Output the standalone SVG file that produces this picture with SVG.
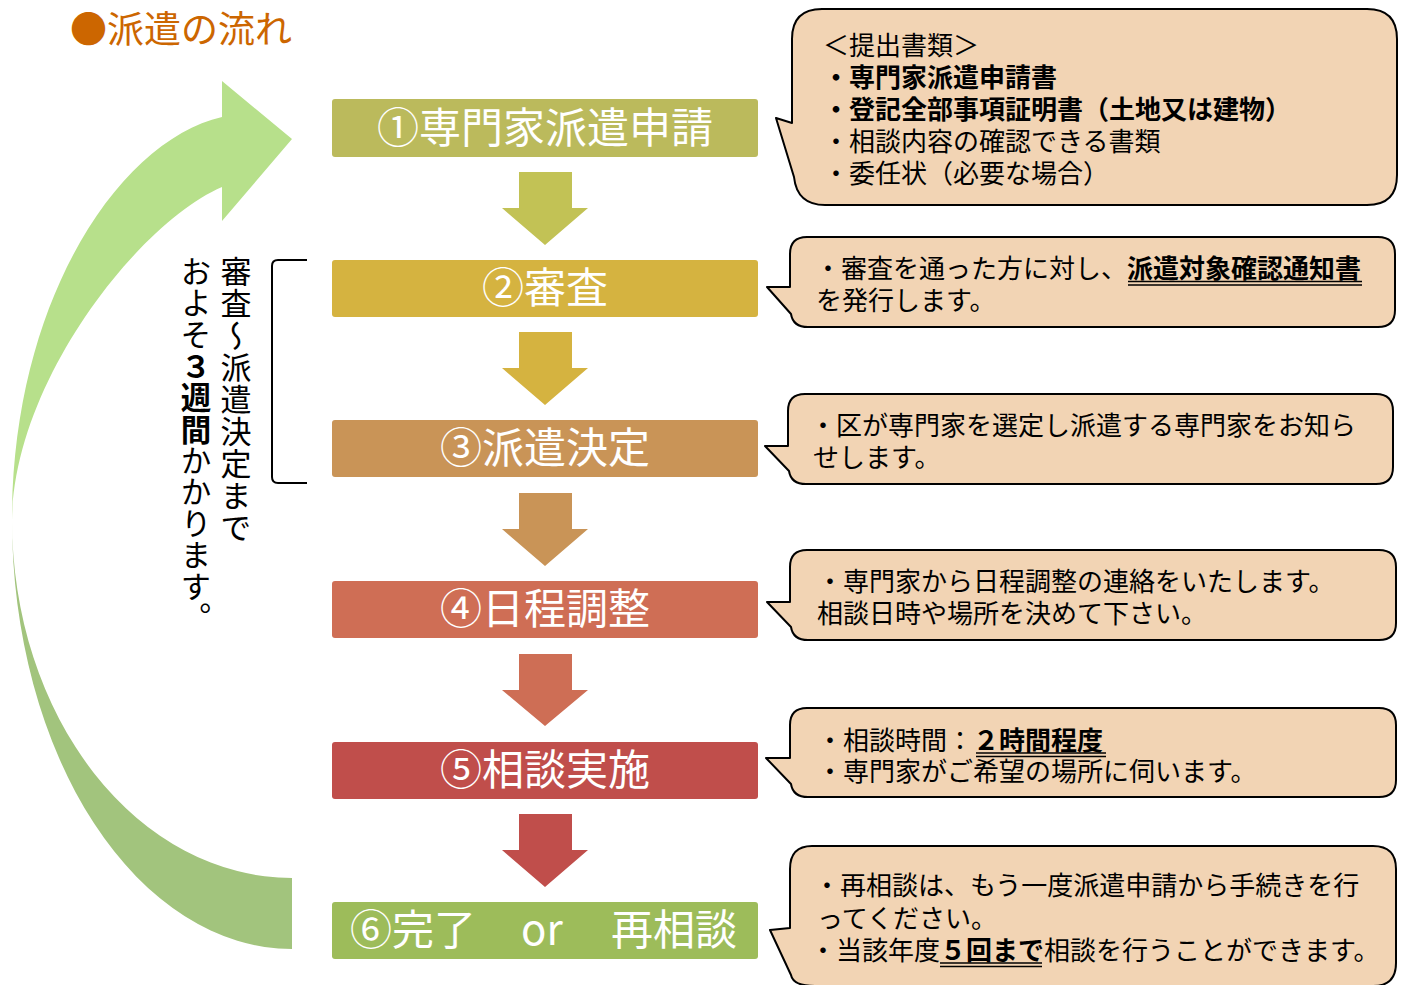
<svg xmlns="http://www.w3.org/2000/svg" width="1405" height="985" viewBox="0 0 1405 985">
<defs>
<style>
.jp{font-family:"Noto Sans CJK JP","Noto Sans",sans-serif;}
.step{font-family:"Noto Sans CJK JP","Noto Sans",sans-serif;font-size:42px;fill:#fff;text-anchor:middle;}
.call{fill:#F2D4B4;stroke:#000;stroke-width:2;stroke-linejoin:round;}
.ct{font-family:"Noto Sans CJK JP","Noto Sans",sans-serif;font-size:26px;fill:#000;}
.b{font-weight:bold;}
.ul{stroke:#000;stroke-width:1.5;}
.vt{font-family:"Noto Sans CJK JP","Noto Sans",sans-serif;fill:#000;writing-mode:vertical-rl;}
</style>
</defs>
<rect width="1405" height="985" fill="#fff"/>

<g id="title">
<text class="jp" x="70" y="43" font-size="37" fill="#CC6600">●派遣の流れ</text>
</g>

<g id="cycle-arrow">
<path d="M12,520 A280,429 0 0 0 292,949 L292,878 A280,358 0 0 1 12,520 Z" fill="#A2C47D"/>
<path d="M222,187 L222,221 L292,139 L222,81 L222,117 C120,140 12,300 12,520 C14,380 140,222 222,187 Z" fill="#B7E08B"/>
</g>

<g id="bracket">
<path d="M307,260 H278 Q272,260 272,266 V477 Q272,483 278,483 H307" fill="none" stroke="#000" stroke-width="2"/>
<text class="vt" x="236" y="256" font-size="31" letter-spacing="1">審査～派遣決定まで</text>
<text class="vt" x="196" y="256" font-size="30.5" letter-spacing="1">およそ<tspan font-weight="bold">３週間</tspan>かかります。</text>
</g>

<g id="connectors">
<polygon points="519,172 572,172 572,208 588,208 545,245 502,208 519,208" fill="#C2C255"/>
<polygon points="519,332 572,332 572,368 588,368 545,405 502,368 519,368" fill="#D5B340"/>
<polygon points="519,493 572,493 572,529 588,529 545,566 502,529 519,529" fill="#C99457"/>
<polygon points="519,654 572,654 572,690 588,690 545,726 502,690 519,690" fill="#CE6E55"/>
<polygon points="519,814 572,814 572,850 588,850 545,887 502,850 519,850" fill="#C04E4B"/>
</g>

<g id="step1">
<rect x="332" y="99" width="426" height="58" rx="3" fill="#BBBA5C"/>
<text class="step" x="545" y="143">①専門家派遣申請</text>
</g>
<g id="step2">
<rect x="332" y="260" width="426" height="57" rx="3" fill="#D5B340"/>
<text class="step" x="545" y="303">②審査</text>
</g>
<g id="step3">
<rect x="332" y="420" width="426" height="57" rx="3" fill="#C99457"/>
<text class="step" x="545" y="463">③派遣決定</text>
</g>
<g id="step4">
<rect x="332" y="581" width="426" height="57" rx="3" fill="#CF6E55"/>
<text class="step" x="545" y="624">④日程調整</text>
</g>
<g id="step5">
<rect x="332" y="742" width="426" height="57" rx="3" fill="#C04E4B"/>
<text class="step" x="545" y="785">⑤相談実施</text>
</g>
<g id="step6">
<rect x="332" y="902" width="426" height="57" rx="3" fill="#9DBC5A"/>
<text class="step" style="text-anchor:start" x="350" y="945">⑥完了</text>
<text class="step" style="text-anchor:start" x="521" y="945">or</text>
<text class="step" style="text-anchor:start" x="611" y="945">再相談</text>
</g>

<g id="callout1">
<path class="call" d="M822,9 H1367 Q1397,9 1397,39 V175 Q1397,205 1367,205 H825 Q797,205 794,177 L776,118 L792,123 V39 Q792,9 822,9 Z"/>
<text class="ct" x="823" y="55">＜提出書類＞</text>
<text class="ct b" x="823" y="87">・専門家派遣申請書</text>
<text class="ct b" x="823" y="119">・登記全部事項証明書（土地又は建物）</text>
<text class="ct" x="823" y="151">・相談内容の確認できる書類</text>
<text class="ct" x="823" y="183">・委任状（必要な場合）</text>
</g>

<g id="callout2">
<path class="call" d="M807,237 H1378 Q1395,237 1395,254 V310 Q1395,327 1378,327 H808 Q793,327 791,314 L767,287 L790,287 V254 Q790,237 807,237 Z"/>
<text class="ct" x="815" y="278">・審査を通った方に対し、<tspan class="b">派遣対象確認通知書</tspan></text>
<line class="ul" x1="1128" y1="281.5" x2="1362" y2="281.5"/>
<line class="ul" x1="1128" y1="285" x2="1362" y2="285"/>
<text class="ct" x="816" y="310">を発行します。</text>
</g>

<g id="callout3">
<path class="call" d="M805,394 H1376 Q1393,394 1393,411 V467 Q1393,484 1376,484 H806 Q791,484 789,471 L765,446 L788,446 V411 Q788,394 805,394 Z"/>
<text class="ct" x="810" y="435">・区が専門家を選定し派遣する専門家をお知ら</text>
<text class="ct" x="813" y="467">せします。</text>
</g>

<g id="callout4">
<path class="call" d="M807,550 H1379 Q1396,550 1396,567 V623 Q1396,640 1379,640 H808 Q793,640 791,627 L767,602 L790,602 V567 Q790,550 807,550 Z"/>
<text class="ct" x="817" y="591">・専門家から日程調整の連絡をいたします。</text>
<text class="ct" x="817" y="623">相談日時や場所を決めて下さい。</text>
</g>

<g id="callout5">
<path class="call" d="M807,708 H1379 Q1396,708 1396,725 V780 Q1396,797 1379,797 H808 Q793,797 791,784 L766,758 L790,758 V725 Q790,708 807,708 Z"/>
<text class="ct" x="817" y="750">・相談時間：<tspan class="b">２時間程度</tspan></text>
<line class="ul" x1="976" y1="753" x2="1106" y2="753"/>
<line class="ul" x1="976" y1="756.5" x2="1106" y2="756.5"/>
<text class="ct" x="817" y="781">・専門家がご希望の場所に伺います。</text>
</g>

<g id="callout6">
<path class="call" d="M812,846 H1373 Q1396,846 1396,869 V963 Q1396,986 1373,986 H815 Q793,986 791,975 L770,930 L790,928 V869 Q790,846 812,846 Z"/>
<text class="ct" x="814" y="895">・再相談は、もう一度派遣申請から手続きを行</text>
<text class="ct" x="817" y="928">ってください。</text>
<text class="ct" x="810" y="960">・当該年度<tspan class="b">５回まで</tspan>相談を行うことができます。</text>
<line class="ul" x1="940" y1="963" x2="1042" y2="963"/>
<line class="ul" x1="940" y1="966.5" x2="1042" y2="966.5"/>
</g>
</svg>
